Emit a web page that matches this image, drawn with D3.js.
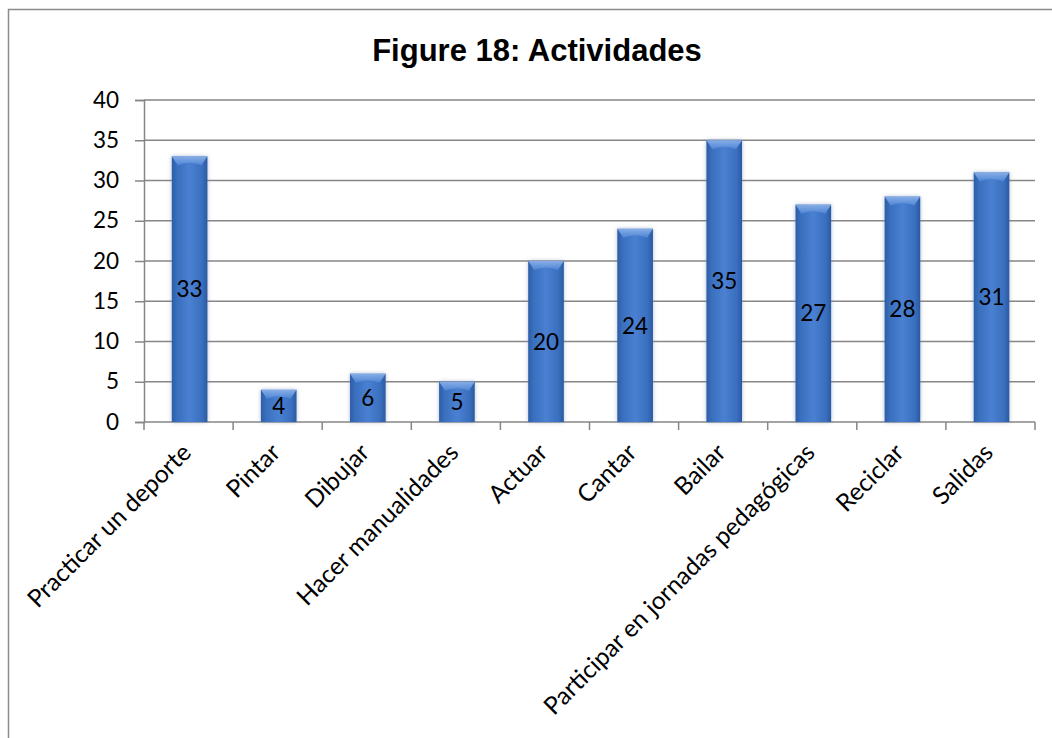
<!DOCTYPE html>
<html>
<head>
<meta charset="utf-8">
<script src="https://cdn.jsdelivr.net/npm/d3@7"></script>
<style>
  html, body { margin: 0; padding: 0; background: #fff; }
  svg { display: block; }
</style>
</head>
<body>
<svg id="chart" width="1052" height="738"></svg>
<script>
// Activities chart data
const categories = [
  "Practicar un deporte", "Pintar", "Dibujar", "Hacer manualidades", "Actuar",
  "Cantar", "Bailar", "Participar en jornadas pedagógicas", "Reciclar", "Salidas"
];
const values = [33, 4, 6, 5, 20, 24, 35, 27, 28, 31];
const yTicks = [0, 5, 10, 15, 20, 25, 30, 35, 40];
const title = "Figure 18: Actividades";

const svg = d3.select("#chart");
const W = 1052, H = 738;
const margin = { left: 144, right: 17, top: 100, bottom: 316 };
const bodyFont = "Lato, 'Open Sans', sans-serif";

const x = d3.scaleBand()
  .domain(categories)
  .range([margin.left, W - margin.right])
  .paddingInner(0.6).paddingOuter(0.3).align(0.52);

const xEdges = d3.scaleLinear()
  .domain([0, categories.length])
  .range([margin.left, W - margin.right]);

const y = d3.scaleLinear().domain([0, 40]).range([H - margin.bottom, margin.top]);

// Outer frame (left and top edges visible)
svg.append("path")
  .attr("d", `M8.5,${H} V9.5 H${W}`)
  .attr("fill", "none").attr("stroke", "#8c8c8c").attr("stroke-width", 1.5);

// Defs: bar gradients and soft shadow
const defs = svg.append("defs");
const g1 = defs.append("linearGradient").attr("id", "barFill")
  .attr("x1", "0").attr("x2", "1").attr("y1", "0").attr("y2", "0");
[["0%", "#2c5ea6"], ["15%", "#3a6fbe"], ["50%", "#4a80d2"], ["85%", "#3a6fbe"], ["100%", "#2a5aa0"]]
  .forEach(([o, c]) => g1.append("stop").attr("offset", o).attr("stop-color", c));
const g2 = defs.append("linearGradient").attr("id", "capFill")
  .attr("x1", "0").attr("x2", "0").attr("y1", "0").attr("y2", "1");
[["0%", "#8fb4ea"], ["100%", "#4f86d6"]]
  .forEach(([o, c]) => g2.append("stop").attr("offset", o).attr("stop-color", c));
const f = defs.append("filter").attr("id", "glow")
  .attr("x", "-30%").attr("y", "-10%").attr("width", "160%").attr("height", "120%");
f.append("feGaussianBlur").attr("in", "SourceAlpha").attr("stdDeviation", 2).attr("result", "b");
f.append("feFlood").attr("flood-color", "#6f86b4").attr("flood-opacity", 0.55);
f.append("feComposite").attr("in2", "b").attr("operator", "in").attr("result", "s");
const fm = f.append("feMerge");
fm.append("feMergeNode").attr("in", "s");
fm.append("feMergeNode").attr("in", "SourceGraphic");

// Horizontal gridlines
svg.append("g").selectAll("line")
  .data(yTicks.filter(d => d > 0))
  .join("line")
  .attr("x1", margin.left).attr("x2", W - margin.right)
  .attr("y1", d => y(d)).attr("y2", d => y(d))
  .attr("stroke", "#868686").attr("stroke-width", 1.5);

// Y axis
const yAxis = svg.append("g")
  .attr("transform", `translate(${margin.left},0)`)
  .call(d3.axisLeft(y).tickValues(yTicks).tickSize(9).tickPadding(16).tickFormat(d3.format("d")));
yAxis.select(".domain").attr("stroke", "#868686").attr("stroke-width", 1.5);
yAxis.selectAll(".tick line").attr("stroke", "#868686").attr("stroke-width", 1.5);
yAxis.selectAll("text")
  .attr("font-family", bodyFont)
  .attr("font-size", 22.5).attr("fill", "#000");

// X axis baseline and category boundary ticks
const xg = svg.append("g");
xg.append("line")
  .attr("x1", margin.left).attr("x2", W - margin.right)
  .attr("y1", y(0)).attr("y2", y(0))
  .attr("stroke", "#868686").attr("stroke-width", 1.5);
xg.selectAll("line.tick")
  .data(d3.range(categories.length + 1))
  .join("line").attr("class", "tick")
  .attr("x1", d => xEdges(d)).attr("x2", d => xEdges(d))
  .attr("y1", y(0)).attr("y2", y(0) + 8)
  .attr("stroke", "#868686").attr("stroke-width", 1.5);

// Bars
const bars = svg.append("g").selectAll("g")
  .data(categories.map((c, i) => ({ c, v: values[i] })))
  .join("g");
bars.append("rect")
  .attr("x", d => x(d.c)).attr("width", x.bandwidth())
  .attr("y", d => y(d.v)).attr("height", d => y(0) - y(d.v))
  .attr("fill", "url(#barFill)").attr("filter", "url(#glow)");
bars.append("path")
  .attr("d", d => {
    const x0 = x(d.c), w = x.bandwidth(), t = y(d.v);
    return `M${x0},${t} H${x0 + w} L${x0 + w - 6},${t + 9} Q${x0 + w / 2},${t + 4} ${x0 + 6},${t + 9} Z`;
  })
  .attr("fill", "url(#capFill)").attr("opacity", 0.9);

// Value labels at bar mid-height
bars.append("text")
  .attr("x", d => x(d.c) + x.bandwidth() / 2)
  .attr("y", d => (y(d.v) + y(0)) / 2)
  .attr("dy", "0.36em")
  .attr("text-anchor", "middle")
  .attr("font-family", bodyFont)
  .attr("font-size", 22.5).attr("fill", "#000")
  .text(d => d.v);

// Category labels, rotated
svg.append("g").selectAll("text")
  .data(categories)
  .join("text")
  .attr("transform", d => `translate(${x(d) + x.bandwidth() / 2 + 3},${y(0) + 32}) rotate(-45)`)
  .attr("text-anchor", "end")
  .attr("font-family", bodyFont)
  .attr("font-size", 24.5).attr("fill", "#000")
  .text(d => d);

// Title
svg.append("text")
  .attr("x", 537).attr("y", 61)
  .attr("text-anchor", "middle")
  .attr("font-family", "'Liberation Sans', Arial, sans-serif")
  .attr("font-weight", "bold").attr("font-size", 31)
  .text(title);
</script>
</body>
</html>
